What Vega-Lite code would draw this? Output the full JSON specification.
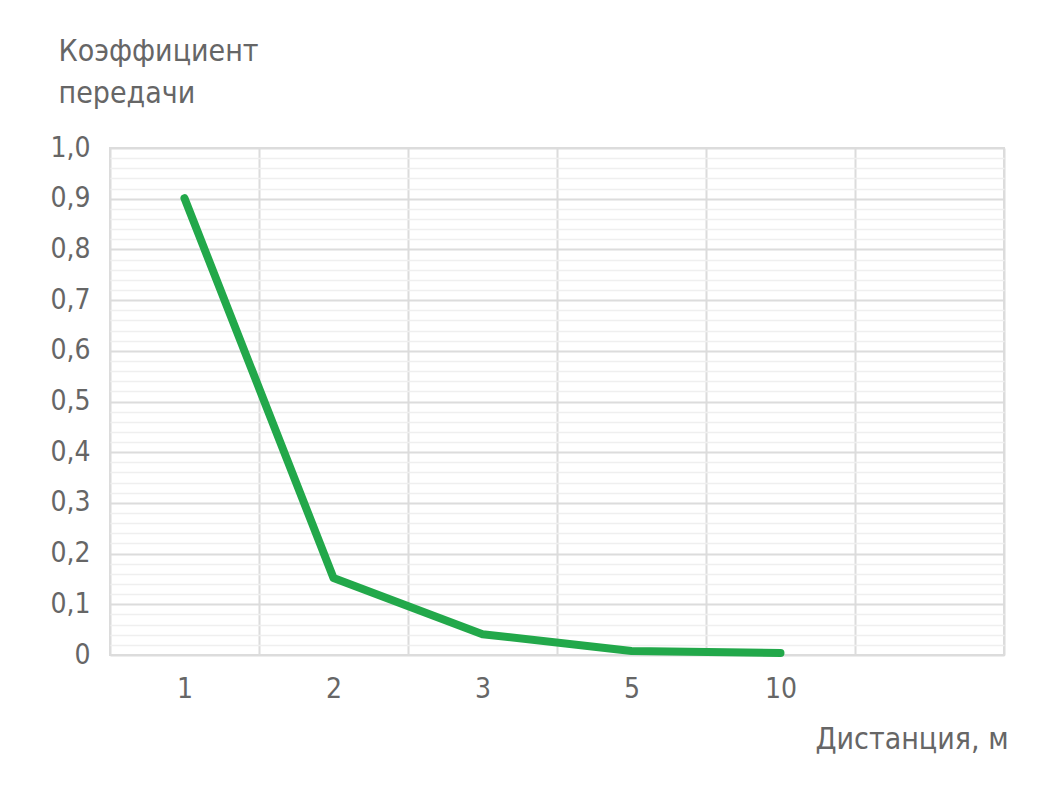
{
  "$schema": "https://vega.github.io/schema/vega-lite/v6.json",
  "autosize": "none",
  "width": 894,
  "height": 507,
  "padding": {"left": 110, "top": 148, "right": 43, "bottom": 144},
  "background": "white",
  "config": {
    "font": "Liberation Sans Narrow, DejaVu Sans Condensed, sans-serif",
    "view": {"stroke": "#dcdcdc", "strokeWidth": 2}
  },
  "data": {
    "values": [
      {"distance": "1", "k": 0.901},
      {"distance": "2", "k": 0.152},
      {"distance": "3", "k": 0.041},
      {"distance": "5", "k": 0.008},
      {"distance": "10", "k": 0.004}
    ]
  },
  "mark": {"type": "line", "color": "#22a84a", "strokeWidth": 8, "strokeCap": "round", "strokeJoin": "round"},
  "encoding": {
    "x": {
      "field": "distance",
      "type": "ordinal",
      "sort": null,
      "scale": {"type": "band", "domain": ["1", "2", "3", "5", "10", " "], "paddingInner": 0, "paddingOuter": 0},
      "axis": {
        "title": "Дистанция, м",
        "titleFontSize": 30,
        "titleFontWeight": "normal",
        "titleColor": "#666666",
        "titleAnchor": "end",
        "titleAlign": "right",
        "titleBaseline": "alphabetic",
        "titleX": 898,
        "titleY": 93,
        "labelAngle": 0,
        "labelFontSize": 28,
        "labelColor": "#666666",
        "labelPadding": 20,
        "ticks": false,
        "domain": false,
        "grid": true,
        "tickBand": "extent",
        "gridColor": "#dcdcdc",
        "gridWidth": 2
      }
    },
    "y": {
      "field": "k",
      "type": "quantitative",
      "scale": {"domain": [0, 1], "nice": false},
      "axis": {
        "title": ["Коэффициент", "передачи"],
        "titleFontSize": 30,
        "titleFontWeight": "normal",
        "titleColor": "#666666",
        "titleAngle": 0,
        "titleAlign": "left",
        "titleBaseline": "top",
        "titleLineHeight": 42,
        "titleX": -52,
        "titleY": -112,
        "values": [0, 0.02, 0.04, 0.06, 0.08, 0.1, 0.12, 0.14, 0.16, 0.18, 0.2, 0.22, 0.24, 0.26, 0.28, 0.3, 0.32, 0.34, 0.36, 0.38, 0.4, 0.42, 0.44, 0.46, 0.48, 0.5, 0.52, 0.54, 0.56, 0.58, 0.6, 0.62, 0.64, 0.66, 0.68, 0.7, 0.72, 0.74, 0.76, 0.78, 0.8, 0.82, 0.84, 0.86, 0.88, 0.9, 0.92, 0.94, 0.96, 0.98, 1],
        "labelExpr": "abs(datum.value*10 - round(datum.value*10)) > 0.001 ? '' : (datum.value == 0 ? '0' : replace(format(datum.value, '.1f'), '.', ','))",
        "labelFontSize": 28,
        "labelColor": "#666666",
        "labelPadding": 20,
        "labelBaseline": "middle",
        "labelOverlap": false,
        "ticks": false,
        "domain": false,
        "grid": true,
        "gridColor": {"condition": {"test": "abs(datum.value*10 - round(datum.value*10)) > 0.001", "value": "#efefef"}, "value": "#dcdcdc"},
        "gridWidth": {"condition": {"test": "abs(datum.value*10 - round(datum.value*10)) > 0.001", "value": 1.5}, "value": 2}
      }
    }
  }
}
